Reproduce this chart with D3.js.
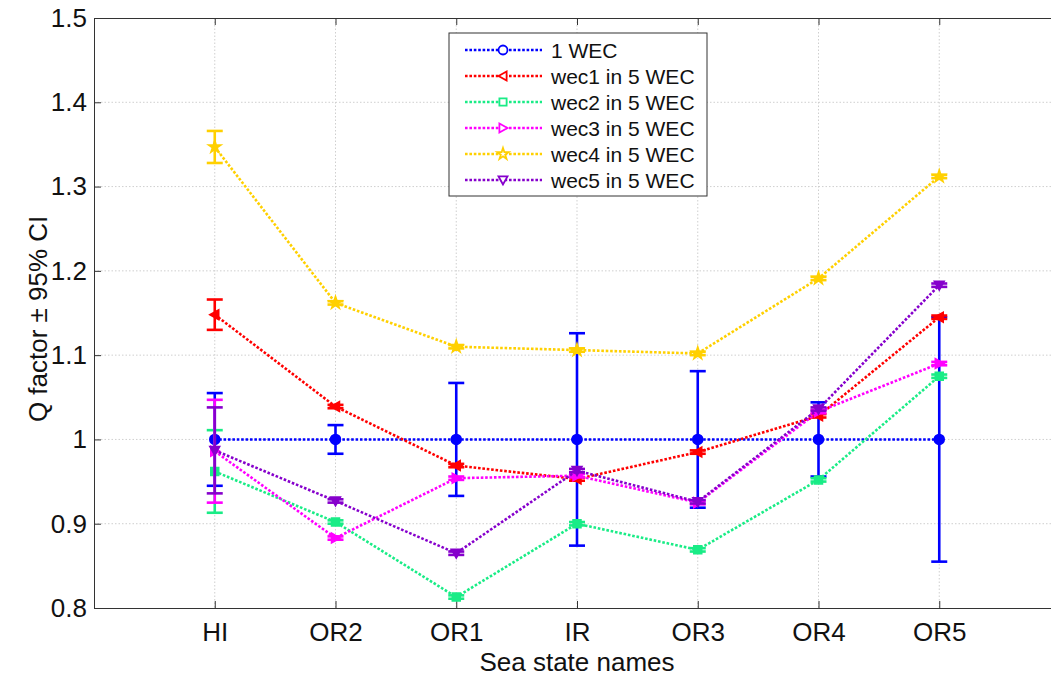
<!DOCTYPE html>
<html>
<head>
<meta charset="utf-8">
<script src="https://cdn.jsdelivr.net/npm/d3@7"></script>
<style>
  body { margin: 0; background: #fff; }
  svg { display: block; font-family: Arial, "Liberation Sans", sans-serif; }
</style>
</head>
<body>
<svg id="chart" width="1051" height="679"></svg>
<script>
// Sea states along the x axis
const categories = ["HI", "OR2", "OR1", "IR", "OR3", "OR4", "OR5"];
const yTicks = [0.8, 0.9, 1.0, 1.1, 1.2, 1.3, 1.4, 1.5];

// Q factor per sea state, with half-width of the 95% confidence interval
const oneWec     = [1.000, 1.000, 1.000, 1.000, 1.000, 1.000, 1.000];
const oneWecCI   = [0.055, 0.017, 0.067, 0.126, 0.081, 0.044, 0.145];
const wec1       = [1.148, 1.039, 0.969, 0.953, 0.985, 1.028, 1.145];
const wec1CI     = [0.018, 0.002, 0.002, 0.002, 0.002, 0.002, 0.002];
const wec2       = [0.962, 0.902, 0.813, 0.900, 0.869, 0.952, 1.075];
const wec2CI     = [0.049, 0.002, 0.002, 0.002, 0.002, 0.002, 0.002];
const wec3       = [0.986, 0.883, 0.954, 0.957, 0.925, 1.033, 1.090];
const wec3CI     = [0.061, 0.002, 0.002, 0.002, 0.002, 0.002, 0.002];
const wec4       = [1.347, 1.162, 1.110, 1.106, 1.102, 1.191, 1.312];
const wec4CI     = [0.019, 0.002, 0.002, 0.002, 0.002, 0.002, 0.002];
const wec5       = [0.987, 0.927, 0.865, 0.963, 0.926, 1.036, 1.183];
const wec5CI     = [0.051, 0.002, 0.002, 0.002, 0.002, 0.002, 0.002];

const seriesNames = ["1 WEC", "wec1 in 5 WEC", "wec2 in 5 WEC", "wec3 in 5 WEC", "wec4 in 5 WEC", "wec5 in 5 WEC"];

const series = [
  { name: seriesNames[0], values: oneWec, ci: oneWecCI, color: "#0000ff", marker: "circle" },
  { name: seriesNames[1], values: wec1,   ci: wec1CI,   color: "#ff0000", marker: "left" },
  { name: seriesNames[2], values: wec2,   ci: wec2CI,   color: "#19ec86", marker: "square" },
  { name: seriesNames[3], values: wec3,   ci: wec3CI,   color: "#ff00ff", marker: "right" },
  { name: seriesNames[4], values: wec4,   ci: wec4CI,   color: "#ffd000", marker: "star" },
  { name: seriesNames[5], values: wec5,   ci: wec5CI,   color: "#8600cc", marker: "down" }
];

const plotL = 94, plotT = 18, plotB = 608, plotR = 1060;

const svg = d3.select("#chart");

const x = d3.scaleLinear().domain([0, categories.length + 1]).range([plotL, plotR]);
const y = d3.scaleLinear().domain([0.8, 1.5]).range([plotB, plotT]);

// Grid
const grid = svg.append("g").attr("stroke", "#cfcfcf").attr("stroke-width", 1)
  .attr("stroke-dasharray", "1.5,2");
grid.selectAll("line.h").data(yTicks.slice(1, -1)).join("line")
  .attr("x1", plotL).attr("x2", plotR)
  .attr("y1", d => y(d)).attr("y2", d => y(d));
grid.selectAll("line.v").data(categories).join("line")
  .attr("x1", (d, i) => x(i + 1)).attr("x2", (d, i) => x(i + 1))
  .attr("y1", plotT).attr("y2", plotB);

// Axes (ticks pointing inward, box around the plot)
const xAxis = d3.axisBottom(x)
  .tickValues(d3.range(1, categories.length + 1))
  .tickFormat(i => categories[i - 1])
  .tickSizeInner(-7).tickSizeOuter(0).tickPadding(15);
const gx = svg.append("g").attr("transform", `translate(0,${plotB})`).call(xAxis);
gx.select(".domain").attr("stroke", "#333");
gx.selectAll(".tick line").attr("stroke", "#333");
gx.selectAll("text").attr("font-size", 26).attr("fill", "#111").attr("dy", "0.71em");

const xTop = d3.axisTop(x)
  .tickValues(d3.range(1, categories.length + 1))
  .tickFormat("").tickSizeInner(-7).tickSizeOuter(0);
const gxt = svg.append("g").attr("transform", `translate(0,${plotT})`).call(xTop);
gxt.select(".domain").attr("stroke", "#333");
gxt.selectAll(".tick line").attr("stroke", "#333");

const yAxis = d3.axisLeft(y)
  .tickValues(yTicks)
  .tickFormat(d => d3.format("")(+d.toFixed(1)))
  .tickSizeInner(-7).tickSizeOuter(0).tickPadding(7);
const gy = svg.append("g").attr("transform", `translate(${plotL},0)`).call(yAxis);
gy.select(".domain").attr("stroke", "#333");
gy.selectAll(".tick line").attr("stroke", "#333");
gy.selectAll("text").attr("font-size", 26).attr("fill", "#111");

// Axis titles
svg.append("text")
  .attr("x", x(4)).attr("y", 671)
  .attr("text-anchor", "middle").attr("font-size", 26).attr("fill", "#111")
  .text("Sea state names");
svg.append("text")
  .attr("transform", `translate(47,${y(1.143)}) rotate(-90)`)
  .attr("text-anchor", "middle").attr("font-size", 26).attr("fill", "#111")
  .text("Q factor \u00B1 95% CI");

// Marker shapes
function markerPath(kind, s) {
  switch (kind) {
    case "left":  return `M${-s},0L${s * 0.8},${-s}L${s * 0.8},${s}Z`;
    case "right": return `M${s},0L${-s * 0.8},${-s}L${-s * 0.8},${s}Z`;
    case "down":  return `M0,${s}L${-s},${-s * 0.8}L${s},${-s * 0.8}Z`;
    case "square":return `M${-s * 0.8},${-s * 0.8}h${s * 1.6}v${s * 1.6}h${-s * 1.6}Z`;
    case "star":  return d3.symbol(d3.symbolStar, s * s * 2.0)();
    default:      return d3.symbol(d3.symbolCircle, Math.PI * s * s)();
  }
}

const plot = svg.append("g");
const capHalf = 8;

series.forEach(s => {
  const g = plot.append("g");
  const pts = s.values.map((v, i) => ({ i, v, ci: s.ci[i] }));

  // Confidence interval bars
  const eb = g.selectAll("g.eb").data(pts).join("g")
    .attr("stroke", s.color).attr("stroke-width", 2.6).attr("fill", "none");
  eb.append("line")
    .attr("x1", d => x(d.i + 1)).attr("x2", d => x(d.i + 1))
    .attr("y1", d => y(d.v - d.ci)).attr("y2", d => y(d.v + d.ci));
  eb.append("line")
    .attr("x1", d => x(d.i + 1) - capHalf).attr("x2", d => x(d.i + 1) + capHalf)
    .attr("y1", d => y(d.v + d.ci)).attr("y2", d => y(d.v + d.ci));
  eb.append("line")
    .attr("x1", d => x(d.i + 1) - capHalf).attr("x2", d => x(d.i + 1) + capHalf)
    .attr("y1", d => y(d.v - d.ci)).attr("y2", d => y(d.v - d.ci));

  // Dotted connecting line
  g.append("path")
    .datum(pts)
    .attr("fill", "none").attr("stroke", s.color)
    .attr("stroke-width", 2.6).attr("stroke-dasharray", "2.6,1.8")
    .attr("d", d3.line().x(d => x(d.i + 1)).y(d => y(d.v)));

  // Markers
  g.selectAll("path.m").data(pts).join("path")
    .attr("transform", d => `translate(${x(d.i + 1)},${y(d.v)})`)
    .attr("d", markerPath(s.marker, 5))
    .attr("fill", s.color).attr("stroke", s.color).attr("stroke-width", 1.5);
});

// Legend
const lg = svg.append("g").attr("transform", "translate(449,33)");
lg.append("rect").attr("width", 258).attr("height", 163)
  .attr("fill", "#fff").attr("stroke", "#333").attr("stroke-width", 1);
series.forEach((s, k) => {
  const ry = 17 + k * 26;
  lg.append("line").attr("x1", 16).attr("x2", 93).attr("y1", ry).attr("y2", ry)
    .attr("stroke", s.color).attr("stroke-width", 2.6).attr("stroke-dasharray", "2.6,1.8");
  lg.append("path").attr("transform", `translate(54,${ry})`)
    .attr("d", markerPath(s.marker, 4.5))
    .attr("fill", "#fff").attr("stroke", s.color).attr("stroke-width", 1.8);
  lg.append("text").attr("x", 102).attr("y", ry).attr("dy", "0.36em")
    .attr("font-size", 21).attr("fill", "#111").text(s.name);
});
</script>
</body>
</html>
